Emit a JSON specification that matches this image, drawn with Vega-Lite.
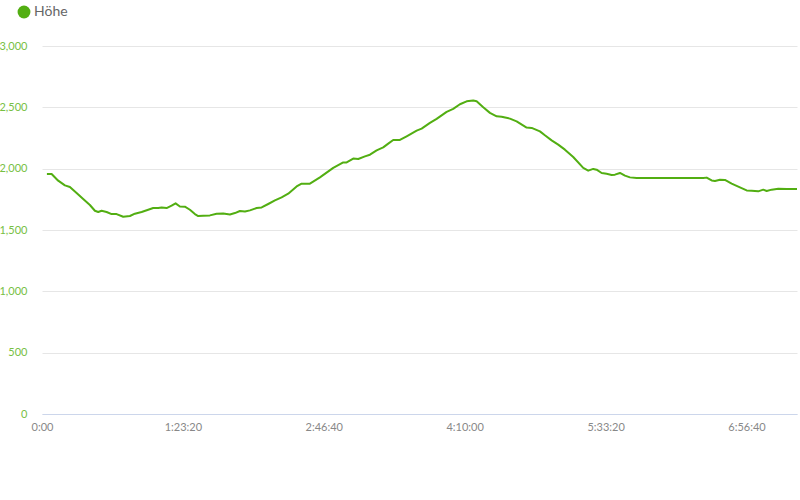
{
  "$schema": "https://vega.github.io/schema/vega-lite/v6.json",
  "width": 755,
  "height": 368,
  "autosize": "none",
  "padding": {"left": 42, "top": 46, "right": 3, "bottom": 86},
  "background": "white",
  "config": {
    "font": "Lato",
    "view": {"stroke": null}
  },
  "data": {
    "values": [
      {"t": 174, "h": 1957}, {"t": 341, "h": 1957}, {"t": 575, "h": 1902}, {"t": 813, "h": 1864},
      {"t": 990, "h": 1851}, {"t": 1228, "h": 1802}, {"t": 1462, "h": 1753}, {"t": 1700, "h": 1704},
      {"t": 1877, "h": 1657}, {"t": 1995, "h": 1647}, {"t": 2115, "h": 1657}, {"t": 2293, "h": 1647},
      {"t": 2470, "h": 1630}, {"t": 2648, "h": 1630}, {"t": 2882, "h": 1608}, {"t": 3120, "h": 1614},
      {"t": 3297, "h": 1633}, {"t": 3535, "h": 1647}, {"t": 3769, "h": 1665}, {"t": 3946, "h": 1679},
      {"t": 4124, "h": 1679}, {"t": 4245, "h": 1684}, {"t": 4422, "h": 1679}, {"t": 4599, "h": 1698},
      {"t": 4741, "h": 1717}, {"t": 4894, "h": 1692}, {"t": 5071, "h": 1690}, {"t": 5249, "h": 1665},
      {"t": 5426, "h": 1630}, {"t": 5543, "h": 1614}, {"t": 5721, "h": 1616}, {"t": 5959, "h": 1619},
      {"t": 6197, "h": 1633}, {"t": 6431, "h": 1635}, {"t": 6669, "h": 1627}, {"t": 6846, "h": 1638},
      {"t": 7024, "h": 1655}, {"t": 7201, "h": 1651}, {"t": 7379, "h": 1660}, {"t": 7616, "h": 1679},
      {"t": 7794, "h": 1684}, {"t": 8028, "h": 1712}, {"t": 8266, "h": 1741}, {"t": 8503, "h": 1766},
      {"t": 8738, "h": 1796}, {"t": 9036, "h": 1855}, {"t": 9213, "h": 1878}, {"t": 9508, "h": 1878},
      {"t": 9863, "h": 1929}, {"t": 10335, "h": 2006}, {"t": 10690, "h": 2051}, {"t": 10811, "h": 2051},
      {"t": 11045, "h": 2082}, {"t": 11223, "h": 2079}, {"t": 11460, "h": 2100}, {"t": 11638, "h": 2114},
      {"t": 11875, "h": 2149}, {"t": 12109, "h": 2174}, {"t": 12287, "h": 2204}, {"t": 12464, "h": 2234},
      {"t": 12702, "h": 2234}, {"t": 12940, "h": 2264}, {"t": 13295, "h": 2310}, {"t": 13472, "h": 2327},
      {"t": 13767, "h": 2373}, {"t": 14004, "h": 2406}, {"t": 14359, "h": 2463}, {"t": 14593, "h": 2487},
      {"t": 14831, "h": 2525}, {"t": 15069, "h": 2549}, {"t": 15303, "h": 2555}, {"t": 15424, "h": 2549},
      {"t": 15658, "h": 2500}, {"t": 15896, "h": 2455}, {"t": 16134, "h": 2427}, {"t": 16311, "h": 2424},
      {"t": 16606, "h": 2408}, {"t": 16843, "h": 2386}, {"t": 17198, "h": 2335}, {"t": 17376, "h": 2332},
      {"t": 17670, "h": 2304}, {"t": 17847, "h": 2272}, {"t": 18085, "h": 2231}, {"t": 18319, "h": 2196},
      {"t": 18557, "h": 2155}, {"t": 18852, "h": 2095}, {"t": 19207, "h": 2006}, {"t": 19384, "h": 1984},
      {"t": 19562, "h": 1998}, {"t": 19682, "h": 1992}, {"t": 19860, "h": 1965}, {"t": 20037, "h": 1959},
      {"t": 20215, "h": 1949}, {"t": 20332, "h": 1951}, {"t": 20510, "h": 1965}, {"t": 20687, "h": 1943},
      {"t": 20865, "h": 1929}, {"t": 21102, "h": 1924}, {"t": 21457, "h": 1924}, {"t": 23466, "h": 1924},
      {"t": 23587, "h": 1927}, {"t": 23764, "h": 1904}, {"t": 23881, "h": 1900}, {"t": 24059, "h": 1910},
      {"t": 24236, "h": 1908}, {"t": 24474, "h": 1878}, {"t": 24768, "h": 1847}, {"t": 25006, "h": 1823},
      {"t": 25184, "h": 1820}, {"t": 25418, "h": 1815}, {"t": 25595, "h": 1829}, {"t": 25716, "h": 1818},
      {"t": 25893, "h": 1829}, {"t": 26129, "h": 1837}, {"t": 26427, "h": 1834}, {"t": 26793, "h": 1834}
    ]
  },
  "mark": {"type": "line", "strokeWidth": 2, "strokeJoin": "round"},
  "encoding": {
    "x": {
      "field": "t",
      "type": "quantitative",
      "scale": {"domain": [0, 26793], "nice": false, "zero": false},
      "axis": {
        "title": null,
        "values": [0, 5000, 10000, 15000, 20000, 25000],
        "grid": false,
        "ticks": false,
        "domainColor": "#ccd6eb",
        "domainWidth": 1,
        "labelColor": "#888888",
        "labelFontSize": 11,
        "labelPadding": 7,
        "labelFlush": false,
        "labelOverlap": false,
        "labelExpr": "datum.value == 0 ? '0:00' : floor(datum.value/3600) + ':' + (floor((datum.value%3600)/60) < 10 ? '0' : '') + floor((datum.value%3600)/60) + ':' + (datum.value%60 < 10 ? '0' : '') + (datum.value%60)"
      }
    },
    "y": {
      "field": "h",
      "type": "quantitative",
      "scale": {"domain": [0, 3000], "nice": false},
      "axis": {
        "title": null,
        "values": [0, 500, 1000, 1500, 2000, 2500, 3000],
        "format": ",.0f",
        "domain": false,
        "ticks": false,
        "gridColor": "#e6e6e6",
        "gridWidth": 1,
        "labelColor": "#77c043",
        "labelFontSize": 11,
        "labelPadding": 15
      }
    },
    "color": {
      "datum": "Höhe",
      "type": "nominal",
      "scale": {"range": ["#52ae12"]},
      "legend": {
        "title": null,
        "orient": "none",
        "legendX": -25,
        "legendY": -41,
        "symbolType": "circle",
        "symbolSize": 165,
        "symbolFillColor": "#52ae12",
        "symbolStrokeColor": "#52ae12",
        "symbolStrokeWidth": 0,
        "labelFontSize": 14,
        "labelColor": "#666666",
        "labelOffset": 3
      }
    }
  }
}
